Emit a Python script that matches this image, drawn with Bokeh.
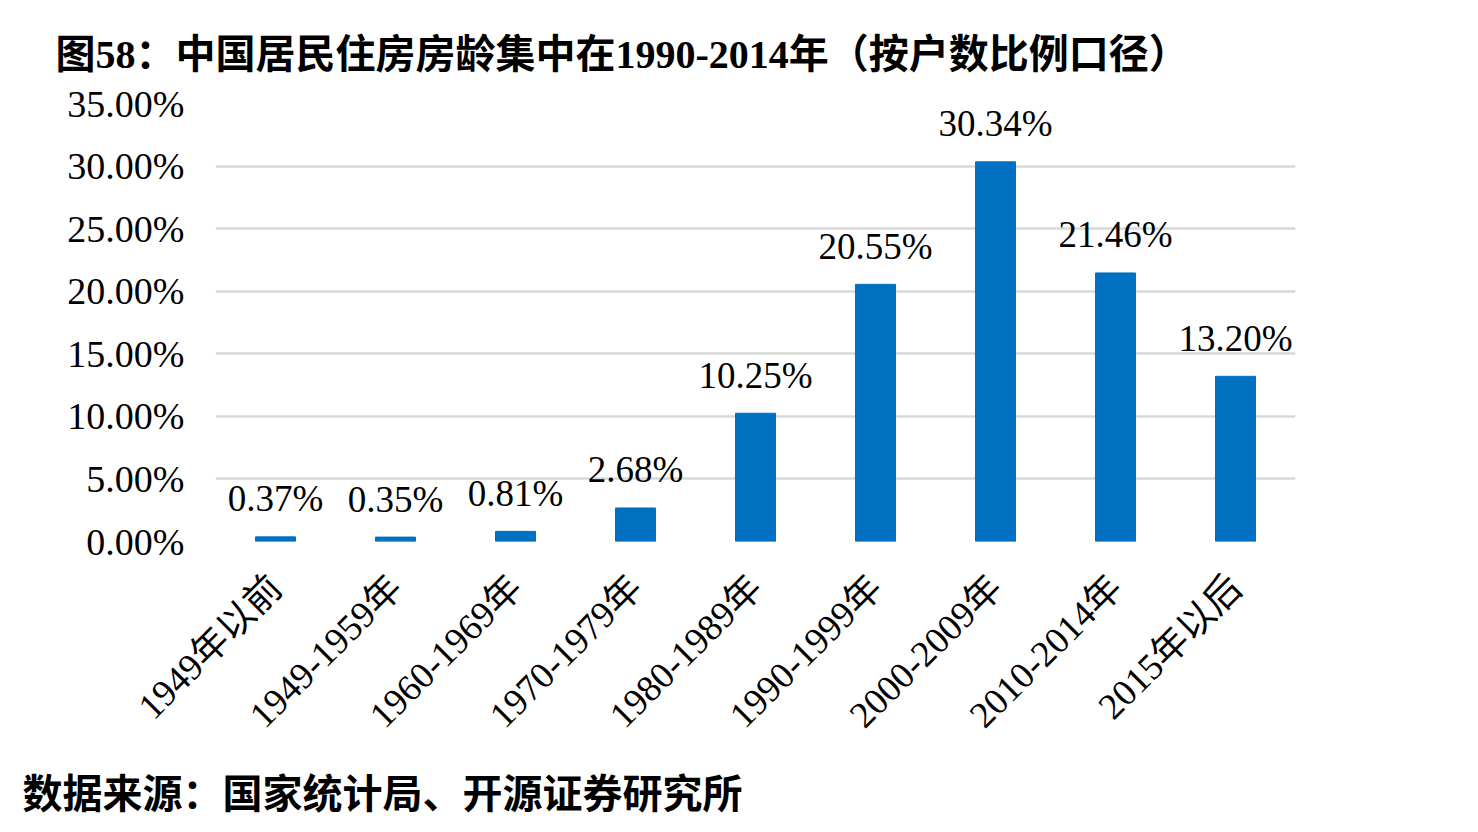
import math
from bokeh.plotting import figure
from bokeh.models import ColumnDataSource, FixedTicker, Title
from bokeh.core.properties import value
from bokeh.embed import file_html
from bokeh.resources import INLINE

categories = ["1949年以前", "1949-1959年", "1960-1969年", "1970-1979年", "1980-1989年",
              "1990-1999年", "2000-2009年", "2010-2014年", "2015年以后"]
shares = [0.37, 0.35, 0.81, 2.68, 10.25, 20.55, 30.34, 21.46, 13.20]
share_labels = ["0.37%", "0.35%", "0.81%", "2.68%", "10.25%", "20.55%", "30.34%", "21.46%", "13.20%"]
y_ticks = [0, 5, 10, 15, 20, 25, 30, 35]
y_tick_labels = ["0.00%", "5.00%", "10.00%", "15.00%", "20.00%", "25.00%", "30.00%", "35.00%"]
title_text = "图58：中国居民住房房龄集中在1990-2014年（按户数比例口径）"
source_text = "数据来源：国家统计局、开源证券研究所"

SERIF = "Liberation Serif, 'Noto Sans CJK SC', serif"

src = ColumnDataSource(dict(cat=categories, v=shares, lab=share_labels))

p = figure(x_range=categories, y_range=(0, 35), width=1478, height=832,
           output_backend="svg", toolbar_location=None,
           min_border_left=215, min_border_right=183, min_border_top=103, min_border_bottom=291)
p.outline_line_color = None
p.background_fill_color = "white"
p.border_fill_color = "white"

p.vbar(x="cat", top="v", width=1/3, source=src, color="#0070C0")
p.text(x="cat", y="v", text="lab", source=src, text_align="center", text_baseline="alphabetic",
       y_offset=-38, text_font=value(SERIF), text_font_size="37px", text_color="#000000")

p.yaxis.ticker = FixedTicker(ticks=y_ticks)
p.yaxis.major_label_overrides = {t: l for t, l in zip(y_ticks, y_tick_labels)}
p.yaxis.axis_line_color = None
p.yaxis.major_tick_line_color = None
p.yaxis.minor_tick_line_color = None
p.yaxis.major_label_text_font = SERIF
p.yaxis.major_label_text_font_size = "38px"
p.yaxis.major_label_text_color = "#000000"
p.yaxis.major_label_standoff = 25

p.xaxis.axis_line_color = None
p.xaxis.major_tick_line_color = None
p.xaxis.major_label_orientation = math.pi / 4
p.xaxis.major_label_text_font = SERIF
p.xaxis.major_label_text_font_size = "37px"
p.xaxis.major_label_text_color = "#000000"
p.xaxis.major_label_standoff = 34

p.xgrid.grid_line_color = None
p.ygrid.grid_line_color = "#d9d9d9"
p.ygrid.grid_line_width = 2.5
p.ygrid.ticker = FixedTicker(ticks=y_ticks)

p.add_layout(Title(text=title_text, align="left", offset=55 - 215, standoff=50,
                   vertical_align="top",
                   text_font=SERIF, text_font_style="bold", text_font_size="40px",
                   text_color="#000000"), "above")
p.add_layout(Title(text=source_text, align="left", offset=22 - 215, standoff=32,
                   text_font=SERIF, text_font_style="bold", text_font_size="40px",
                   text_color="#000000"), "below")

open("out.html", "w").write(file_html(p, INLINE))
